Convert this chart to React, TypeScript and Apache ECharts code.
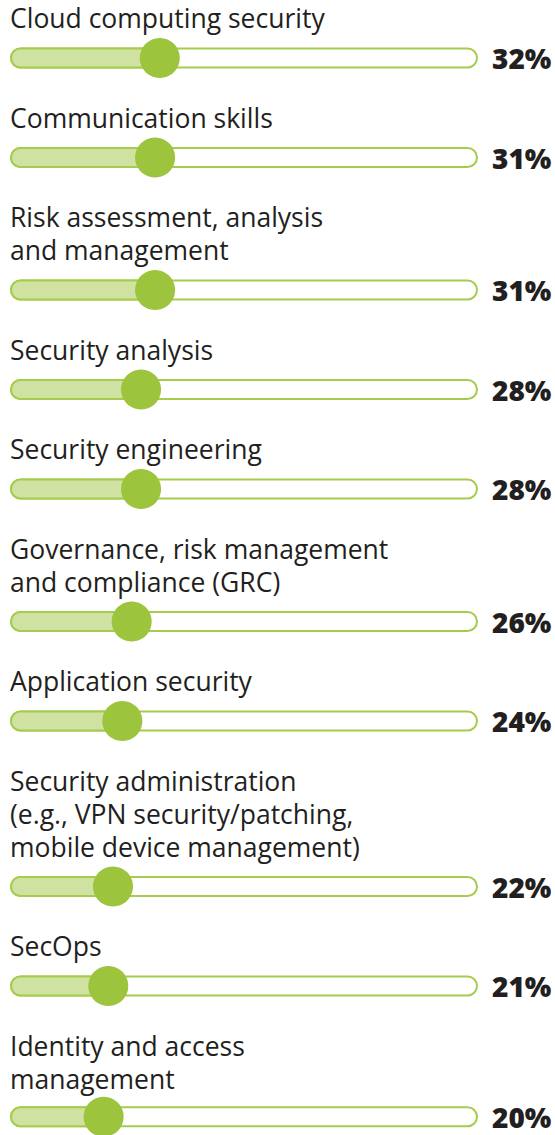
import React, { useEffect, useRef } from "react";
import * as echarts from "echarts";

const labelLines: string[][] = [
  ["Cloud computing security"],
  ["Communication skills"],
  ["Risk assessment, analysis", "and management"],
  ["Security analysis"],
  ["Security engineering"],
  ["Governance, risk management", "and compliance (GRC)"],
  ["Application security"],
  ["Security administration", "(e.g., VPN security/patching,", "mobile device management)"],
  ["SecOps"],
  ["Identity and access", "management"],
];
const values = [32, 31, 31, 28, 28, 26, 24, 22, 21, 20];

const FONT = "'Open Sans', 'Noto Sans', sans-serif";
const DARK = "#231f20";
const BORDER = "#a6cc4e";
const FILL = "#cfe2a2";
const DOT = "#9cc43c";

export default function App() {
  const ref = useRef<HTMLDivElement>(null);
  useEffect(() => {
    if (!ref.current) return;
    const chart = echarts.init(ref.current, undefined, { renderer: "svg" });

    // layout: bar centre positions depend on number of label lines
    const centers: number[] = [];
    let c = 58;
    labelLines.forEach((lines, i) => {
      if (i > 0) c += 66.5 + 33 * lines.length;
      centers.push(c);
    });

    const grid: any[] = [];
    const xAxis: any[] = [];
    const yAxis: any[] = [];
    const series: any[] = [];
    const graphic: any[] = [];

    values.forEach((v, i) => {
      const ctr = centers[i];
      grid.push({ left: 10, right: 77, top: ctr - 20, height: 40 });
      xAxis.push({ gridIndex: i, type: "value", min: 0, max: 100, show: false });
      yAxis.push({ gridIndex: i, type: "category", data: [""], show: false });
      series.push({
        type: "bar",
        xAxisIndex: i,
        yAxisIndex: i,
        data: [100],
        barWidth: 21,
        silent: true,
        itemStyle: { color: "#ffffff", borderColor: BORDER, borderWidth: 2, borderRadius: 11 },
        label: {
          show: true,
          position: "right",
          distance: 14,
          formatter: () => `${v}%`,
          fontSize: 28,
          fontWeight: 800,
          fontFamily: FONT,
          color: DARK,
        },
      });
      series.push({
        type: "bar",
        xAxisIndex: i,
        yAxisIndex: i,
        data: [v],
        barWidth: 21,
        barGap: "-100%",
        silent: true,
        itemStyle: { color: FILL, borderColor: BORDER, borderWidth: 2, borderRadius: [11, 0, 0, 11] },
      });
      series.push({
        type: "scatter",
        xAxisIndex: i,
        yAxisIndex: i,
        data: [[v, 0]],
        symbolSize: 40,
        silent: true,
        z: 5,
        itemStyle: { color: DOT, opacity: 1 },
      });
      const lines = labelLines[i];
      lines.forEach((t, k) => {
        graphic.push({
          type: "text",
          x: 10,
          y: ctr - 40 - 33 * (lines.length - 1 - k),
          style: {
            text: t,
            fontSize: 26.5,
            fontFamily: FONT,
            fill: DARK,
            verticalAlign: "middle",
            align: "left",
          },
        });
      });
    });

    chart.setOption({
      animation: false,
      backgroundColor: "#ffffff",
      grid,
      xAxis,
      yAxis,
      series,
      graphic,
    });
    return () => chart.dispose();
  }, []);
  return (
    <div
      ref={ref}
      style={{ position: "absolute", left: 0, top: 0, width: 555, height: 1135 }}
    />
  );
}
